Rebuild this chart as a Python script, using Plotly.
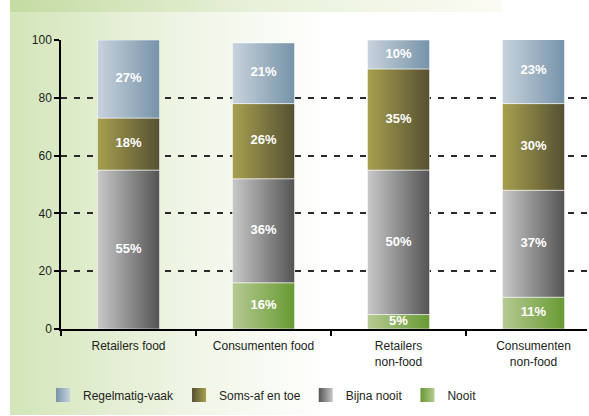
import base64
import plotly.graph_objects as go

# ---- data -------------------------------------------------------------
categories = ["Retailers food", "Consumenten food", "Retailers<br>non-food", "Consumenten<br>non-food"]
series = ["Regelmatig-vaak", "Soms-af en toe", "Bijna nooit", "Nooit"]
regelmatig_vaak = [27, 21, 10, 23]
soms_af_en_toe = [18, 26, 35, 30]
bijna_nooit = [55, 36, 50, 37]
nooit = [0, 16, 5, 11]
y_ticks = [0, 20, 40, 60, 80, 100]

values = {
    "Regelmatig-vaak": regelmatig_vaak,
    "Soms-af en toe": soms_af_en_toe,
    "Bijna nooit": bijna_nooit,
    "Nooit": nooit,
}

# horizontal gradient (left colour, right colour) per series
gradients = {
    "Regelmatig-vaak": ("#c8d3dc", "#7693a9"),
    "Soms-af en toe": ("#a7a04f", "#555033"),
    "Bijna nooit": ("#c9c9c9", "#545454"),
    "Nooit": ("#b6ca92", "#679a32"),
}

# ---- layout geometry ----------------------------------------------------
W, H = 589, 416
M = dict(l=61, r=2, t=40, b=87)
PW = W - M["l"] - M["r"]
PH = H - M["t"] - M["b"]
PX_PER_CAT = 135
BAR_W = 0.46
x_range = [-0.5, -0.5 + PW / PX_PER_CAT]

FONT = "Liberation Sans, Arial, sans-serif"
TXT = "#231f20"

fig = go.Figure()

# stacked segments, bottom to top, each filled with a left-to-right gradient
stack_order = ["Nooit", "Bijna nooit", "Soms-af en toe", "Regelmatig-vaak"]
base = [0] * len(categories)
for name in stack_order:
    c0, c1 = gradients[name]
    lx, ly, lt = [], [], []
    for i, v in enumerate(values[name]):
        if v <= 0:
            continue
        x0, x1 = i - BAR_W / 2, i + BAR_W / 2
        y0, y1 = base[i], base[i] + v
        fig.add_trace(go.Scatter(
            x=[x0, x1, x1, x0, x0], y=[y0, y0, y1, y1, y0],
            mode="lines", fill="toself",
            line=dict(color="rgba(255,255,255,0.55)", width=1),
            fillgradient=dict(type="horizontal", colorscale=[[0, c0], [1, c1]]),
            showlegend=False, hoverinfo="skip",
        ))
        lx.append(i)
        ly.append((y0 + y1) / 2)
        lt.append(f"{v}%")
        base[i] = y1
    fig.add_trace(go.Scatter(
        x=lx, y=ly, text=lt, mode="text",
        textfont=dict(family=FONT, size=13, color="white", weight="bold"),
        showlegend=False, hoverinfo="skip",
    ))

# legend swatches
for name in series:
    c0, c1 = gradients[name]
    fig.add_trace(go.Scatter(
        x=[None], y=[None], mode="markers", name=name,
        marker=dict(symbol="square", size=14, color=c1,
                    gradient=dict(type="horizontal", color=c0)),
    ))

# soft green backdrop on the left and the header strip
svg = (
    f"<svg xmlns='http://www.w3.org/2000/svg' width='{W}' height='{H}' preserveAspectRatio='none'>"
    "<defs>"
    "<linearGradient id='g' x1='0' x2='1' y1='0' y2='0'>"
    "<stop offset='0' stop-color='#d3e5b9'/><stop offset='0.55' stop-color='#eff5e5'/>"
    "<stop offset='1' stop-color='#ffffff'/></linearGradient>"
    "<linearGradient id='t' x1='0' x2='1' y1='0' y2='0'>"
    "<stop offset='0' stop-color='#c4dba2'/><stop offset='0.5' stop-color='#e8f1da'/>"
    "<stop offset='1' stop-color='#fbfbf3'/></linearGradient>"
    "</defs>"
    f"<rect x='10' y='0' width='320' height='415' fill='url(#g)'/>"
    f"<rect x='10' y='0' width='491' height='12' fill='url(#t)'/>"
    "</svg>"
)
src = "data:image/svg+xml;base64," + base64.b64encode(svg.encode()).decode()
fig.add_layout_image(dict(
    source=src, xref="paper", yref="paper",
    x=-M["l"] / PW, y=1 + M["t"] / PH,
    sizex=W / PW, sizey=H / PH,
    xanchor="left", yanchor="top", sizing="stretch", layer="below",
))

LEGEND_Y_PX = 395  # vertical centre of the legend row, in page pixels

fig.update_layout(
    width=W, height=H, margin=M,
    paper_bgcolor="white", plot_bgcolor="rgba(0,0,0,0)",
    font=dict(family=FONT, size=12, color=TXT),
    legend=dict(
        orientation="h", x=-18 / PW, xanchor="left",
        y=(M["t"] + PH - LEGEND_Y_PX) / PH, yanchor="middle",
        font=dict(family=FONT, size=12, color=TXT),
        bgcolor="rgba(0,0,0,0)", itemclick=False,
    ),
    xaxis=dict(
        range=x_range, tickvals=list(range(len(categories))), ticktext=categories,
        ticks="", showgrid=False, zeroline=False,
        showline=True, linecolor="black", linewidth=1.5,
        minor=dict(tickvals=[-0.5, 0.5, 1.5, 2.5], ticks="outside", ticklen=5,
                   tickwidth=1.5, tickcolor="black", showgrid=False),
        tickfont=dict(family=FONT, size=12, color=TXT),
        ticklabelstandoff=5,
        fixedrange=True,
    ),
    yaxis=dict(
        range=[0, 100], tickvals=y_ticks,
        showgrid=True, gridcolor="#2a2a2a", gridwidth=1.5, griddash="6px,7px",
        zeroline=False, showline=True, linecolor="black", linewidth=1.5,
        ticks="outside", ticklen=5, tickwidth=1.5, tickcolor="black",
        tickfont=dict(family=FONT, size=12, color=TXT),
        fixedrange=True,
    ),
)

fig.write_html("out.html")
